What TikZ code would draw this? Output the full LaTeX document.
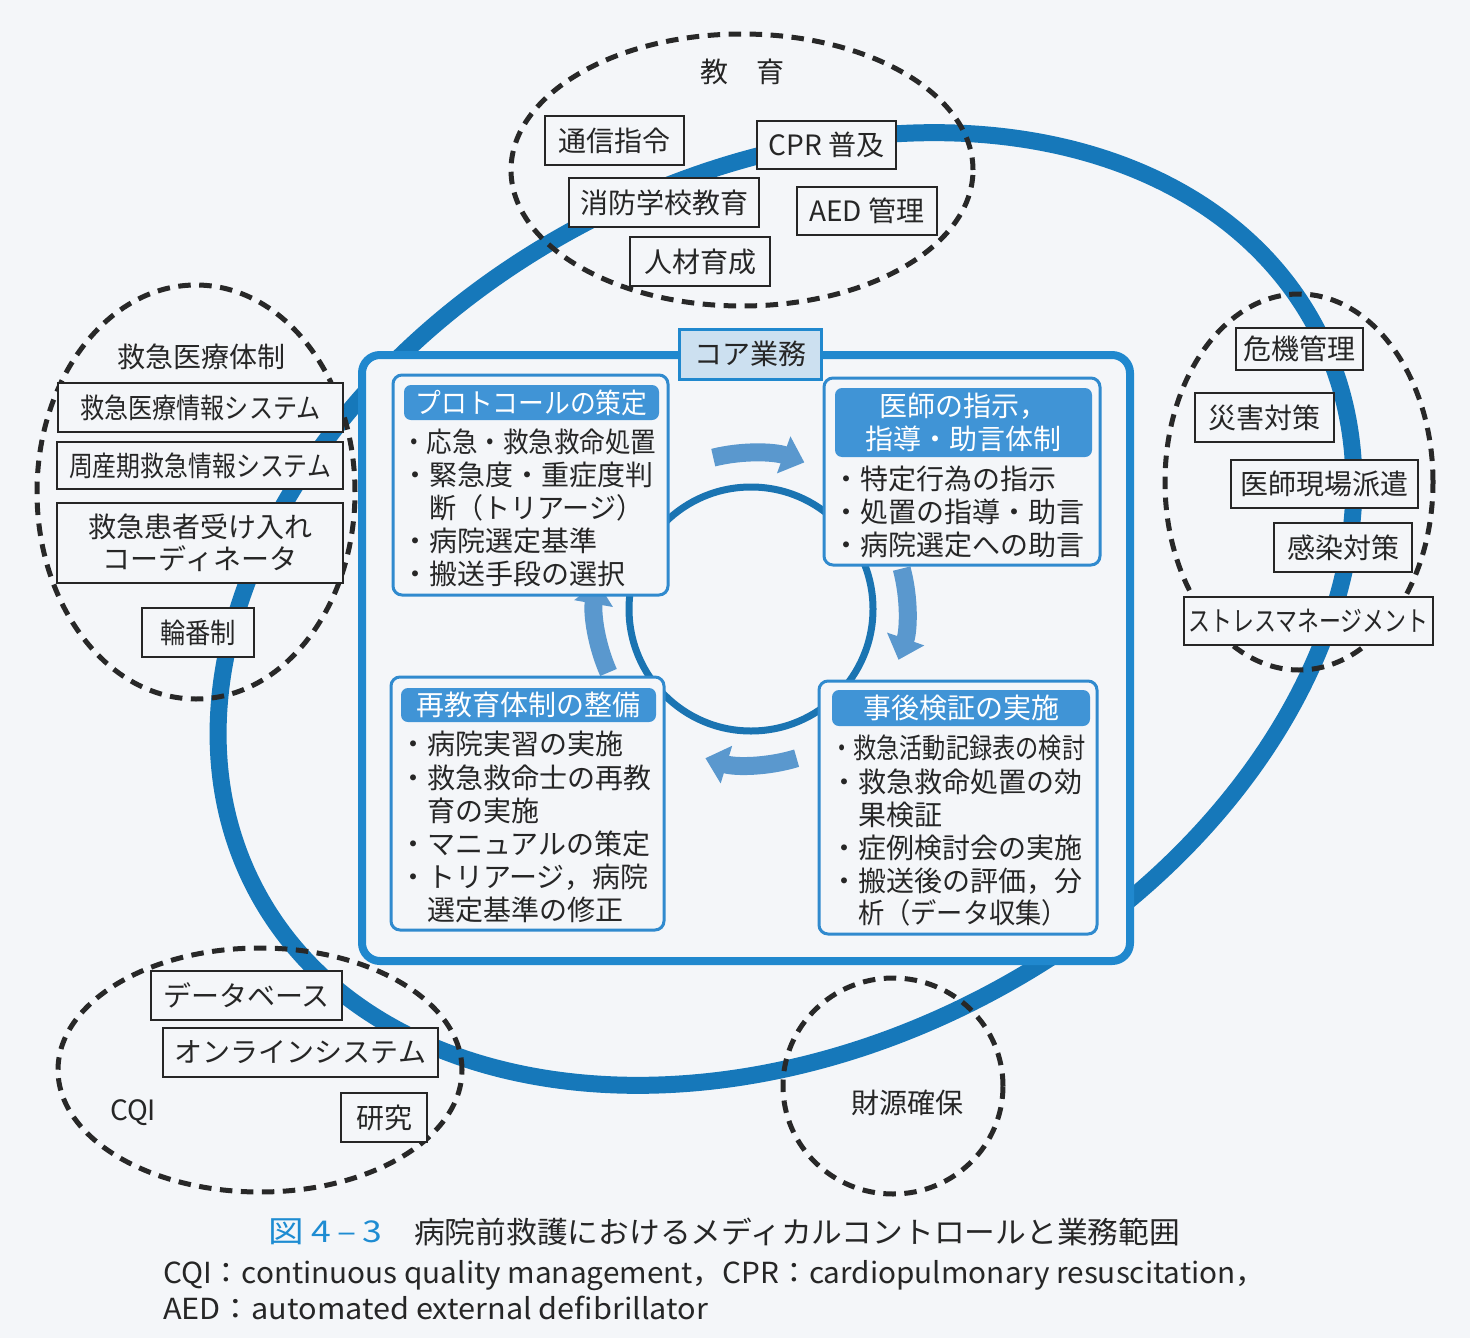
\documentclass[tikz,border=0pt]{standalone}
\usepackage{graphicx}
\usepackage{fontspec}
\setmainfont{Noto Sans CJK JP}
\usetikzlibrary{arrows.meta}
\definecolor{bg}{RGB}{244,246,249}
\definecolor{ringblue}{RGB}{22,120,186}
\definecolor{frameblue}{RGB}{32,136,206}
\definecolor{boxblue}{RGB}{48,138,206}
\definecolor{headblue}{RGB}{64,148,214}
\definecolor{corefill}{RGB}{204,224,240}
\definecolor{circblue}{RGB}{26,116,178}
\definecolor{arrblue}{RGB}{90,152,206}
\definecolor{ink}{RGB}{38,38,38}
\definecolor{dashk}{RGB}{40,40,40}
\definecolor{capblue}{RGB}{30,140,210}
\newcommand\fitw[2]{\resizebox{#1}{\height}{#2}}
\begin{document}
\begin{tikzpicture}[x=1pt,y=-1pt,
  lbox/.style={draw=ink, line width=1.8pt, fill=bg, inner sep=0pt, text=ink, font=\fontsize{28}{32}\selectfont},
  grp/.style={draw=dashk, line width=5pt, dash pattern=on 12.5pt off 8.5pt},
  glabel/.style={inner sep=0pt, text=ink, font=\fontsize{28}{32}\selectfont},
  subbox/.style={draw=boxblue, line width=3pt, fill=bg, rounded corners=9pt, inner sep=0pt},
  head/.style={fill=headblue, rounded corners=7pt, inner sep=0pt, text=white, font=\fontsize{28}{33}\selectfont, align=center},
  itm/.style={inner sep=0pt, text=ink, font=\fontsize{28}{33}\selectfont, anchor=base west},
  cyc/.style={draw=arrblue, line width=18pt, -{Triangle[width=38pt,length=22pt]}},
]
% background
\fill[bg] (0,0) rectangle (1470,1338);

% big outer ring
\coordinate (ec) at (786,609);
\draw[ringblue, line width=17pt, rotate around={28:(ec)}] (ec) ellipse [x radius=600pt, y radius=435pt];

% dashed group outlines
\draw[grp] (742,170) ellipse [x radius=231pt, y radius=136pt];
\draw[grp] (196,492) ellipse [x radius=159pt, y radius=207pt];
\draw[grp] (1299,482) ellipse [x radius=134pt, y radius=188pt];
\draw[grp] (260,1070) ellipse [x radius=202pt, y radius=122pt];
\draw[grp] (893,1086) ellipse [x radius=110pt, y radius=108pt];

% core frame
\node[draw=frameblue, line width=8pt, fill=bg, rounded corners=18pt, minimum width=768pt, minimum height=606pt, inner sep=0pt] (core) at (746,658) {};
\node[draw=frameblue, line width=3pt, fill=corefill, minimum width=142pt, minimum height=50pt, inner sep=0pt, text=ink, font=\fontsize{28}{32}\selectfont] (corelbl) at (750,354) {コア業務};

% inner cycle
\coordinate (cc) at (751,609);
\draw[circblue, line width=7pt] (cc) circle [radius=122pt];
\draw[cyc] ([shift={(104:156pt)}]cc) arc [start angle=104, end angle=70, radius=156pt];
\draw[cyc] ([shift={(15:156pt)}]cc) arc [start angle=15, end angle=-19, radius=156pt];
\draw[cyc] ([shift={(-73:156pt)}]cc) arc [start angle=-73, end angle=-107, radius=156pt];
\draw[cyc] ([shift={(204:156pt)}]cc) arc [start angle=204, end angle=170, radius=156pt];

% four sub boxes
\node[subbox, minimum width=275pt, minimum height=220pt] (tl) at (530.5,485) {};
\node[subbox, minimum width=276pt, minimum height=187pt] (tr) at (962,471.5) {};
\node[subbox, minimum width=273pt, minimum height=253pt] (bl) at (527.5,803.5) {};
\node[subbox, minimum width=278pt, minimum height=253pt] (br) at (958,807.5) {};

\node[head, minimum width=255pt, minimum height=35pt] (tlh) at (531.5,402.5) {\fitw{232pt}{プロトコールの策定}};
\node[head, minimum width=257pt, minimum height=69pt] (trh) at (963.5,422.5) {医師の指示，\\指導・助言体制};
\node[head, minimum width=255pt, minimum height=34pt] (blh) at (528.5,705) {再教育体制の整備};
\node[head, minimum width=258pt, minimum height=36pt] (brh) at (961,708) {事後検証の実施};

% items
\node[itm] (tl1) at (401,452) {\fitw{255pt}{・応急・救急救命処置}};
\node[itm] (tl2) at (401,485) {・緊急度・重症度判};
\node[itm] (tl3) at (429,518) {\fitw{214pt}{断（トリアージ）}};
\node[itm] (tl4) at (401,551) {・病院選定基準};
\node[itm] (tl5) at (401,584) {・搬送手段の選択};

\node[itm] (tr1) at (832,489) {・特定行為の指示};
\node[itm] (tr2) at (832,522) {・処置の指導・助言};
\node[itm] (tr3) at (832,555) {・病院選定への助言};

\node[itm] (bl1) at (399,754) {・病院実習の実施};
\node[itm] (bl2) at (399,788) {・救急救命士の再教};
\node[itm] (bl3) at (427,821) {育の実施};
\node[itm] (bl4) at (399,854) {・マニュアルの策定};
\node[itm] (bl5) at (399,887) {・トリアージ，病院};
\node[itm] (bl6) at (427,920) {選定基準の修正};

\node[itm] (br1) at (830,758) {\fitw{255pt}{・救急活動記録表の検討}};
\node[itm] (br2) at (830,792) {・救急救命処置の効};
\node[itm] (br3) at (858,825) {果検証};
\node[itm] (br4) at (830,858) {・症例検討会の実施};
\node[itm] (br5) at (830,891) {・搬送後の評価，分};
\node[itm] (br6) at (858,923) {\fitw{210pt}{析（データ収集）}};

% education group
\node[glabel] (edulbl) at (742,72) {教　育};
\node[lbox, minimum width=139pt, minimum height=49pt] (tsushin) at (614.5,140.5) {通信指令};
\node[lbox, minimum width=139pt, minimum height=48pt] (cpr) at (826.5,145) {CPR 普及};
\node[lbox, minimum width=190pt, minimum height=49pt] (shobo) at (664,202.5) {消防学校教育};
\node[lbox, minimum width=140pt, minimum height=48pt] (aed) at (867,211) {AED 管理};
\node[lbox, minimum width=140pt, minimum height=49pt] (jinzai) at (700,261.5) {人材育成};

% emergency medical system group
\node[glabel] (qqlbl) at (201,357) {救急医療体制};
\node[lbox, minimum width=285pt, minimum height=49pt] (qiryo) at (200.5,407.5) {\fitw{240pt}{救急医療情報システム}};
\node[lbox, minimum width=286pt, minimum height=47pt] (shusan) at (200,465.5) {\fitw{262pt}{周産期救急情報システム}};
\node[lbox, minimum width=286pt, minimum height=80pt, align=center] (ukeire) at (200,543) {救急患者受け入れ\\コーディネータ};
\node[lbox, minimum width=112pt, minimum height=49pt] (rinban) at (198,632.5) {\fitw{76pt}{輪番制}};

% risk management group
\node[lbox, minimum width=127pt, minimum height=42pt] (kiki) at (1299.5,349) {危機管理};
\node[lbox, minimum width=139pt, minimum height=49pt] (saigai) at (1264.5,417.5) {災害対策};
\node[lbox, minimum width=187pt, minimum height=48pt] (haken) at (1324.5,484) {医師現場派遣};
\node[lbox, minimum width=138pt, minimum height=49pt] (kansen) at (1343,547.5) {感染対策};
\node[lbox, minimum width=249pt, minimum height=48pt] (stress) at (1308.5,621) {\fitw{240pt}{ストレスマネージメント}};

% CQI group
\node[lbox, minimum width=191pt, minimum height=49pt] (db) at (246.5,995.5) {データベース};
\node[lbox, minimum width=275pt, minimum height=49pt] (online) at (300.5,1052.5) {オンラインシステム};
\node[glabel] (cqilbl) at (133,1113) {CQI};
\node[lbox, minimum width=86pt, minimum height=49pt] (kenkyu) at (384,1117.5) {研究};

% funding
\node[glabel] (zaigen) at (907,1103) {財源確保};

% caption
\node[inner sep=0pt, anchor=west, text=capblue, font=\fontsize{30}{30}\selectfont] (fignum) at (268,1232) {\fitw{114pt}{図 4\,–\,3}};
\node[inner sep=0pt, anchor=west, text=ink, font=\fontsize{30}{30}\selectfont] (figtitle) at (414,1232) {\fitw{766pt}{病院前救護におけるメディカルコントロールと業務範囲}};
\node[inner sep=0pt, anchor=base west, text=ink, font=\fontsize{29}{29}\selectfont] (abbr1) at (163,1283) {\fitw{1102pt}{CQI：continuous quality management，CPR：cardiopulmonary resuscitation，}};
\node[inner sep=0pt, anchor=base west, text=ink, font=\fontsize{29}{29}\selectfont] (abbr2) at (163,1319) {\fitw{545pt}{AED：automated external defibrillator}};
\end{tikzpicture}
\end{document}
